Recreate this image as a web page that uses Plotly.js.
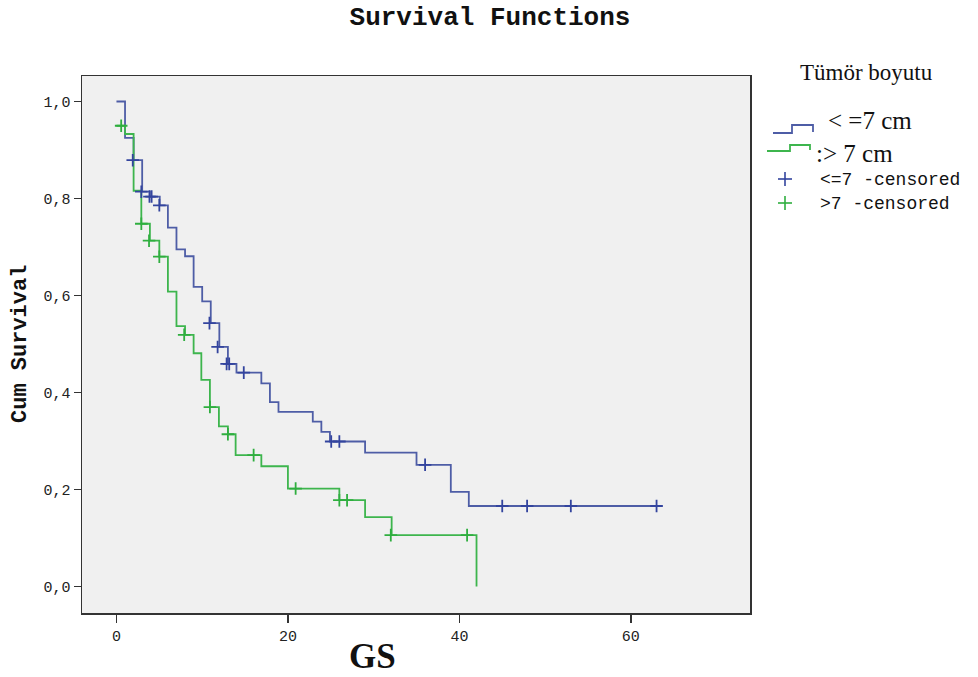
<!DOCTYPE html>
<html>
<head>
<meta charset="utf-8">
<script src="https://cdn.plot.ly/plotly-3.0.1.min.js"></script>
<style>html,body{margin:0;padding:0;background:#fff;}#chart{width:978px;height:677px;}</style>
</head>
<body>
<div id="chart"></div>
<script>
// ---- data ----
// group "<=7 cm": step points (time, cumulative survival)
const smallTimes = [0, 1.0, 2.0, 3.0, 3.9, 5.05, 6.0, 7.0, 8.0, 9.0, 10.0, 11.0, 12.0, 13.0, 14.0, 16.9, 17.9, 18.9, 22.9, 23.9, 24.9, 29.0, 35.0, 39.0, 41.1, 63.0];
const smallSurv  = [1.0, 0.925, 0.879, 0.814, 0.804, 0.786, 0.740, 0.695, 0.681, 0.618, 0.588, 0.543, 0.494, 0.459, 0.441, 0.419, 0.380, 0.360, 0.340, 0.319, 0.299, 0.276, 0.251, 0.195, 0.166, 0.166];
// group "<=7" censored marks
const smallCensT = [1.9, 2.9, 3.85, 4.1, 5.0, 10.85, 11.8, 12.85, 13.15, 14.85, 25.05, 26.0, 36.0, 45.0, 47.9, 53.0, 63.0];
const smallCensS = [0.879, 0.814, 0.804, 0.804, 0.786, 0.543, 0.494, 0.459, 0.459, 0.441, 0.299, 0.299, 0.251, 0.166, 0.166, 0.166, 0.166];

// group "> 7 cm"
const largeTimes = [0, 1.0, 2.0, 2.9, 3.9, 5.0, 6.0, 7.0, 8.0, 9.0, 9.9, 10.9, 11.95, 13.0, 13.9, 16.9, 20.0, 26.0, 29.0, 32.1, 42.0];
const largeSurv  = [0.950, 0.933, 0.816, 0.748, 0.713, 0.680, 0.608, 0.537, 0.519, 0.481, 0.426, 0.370, 0.330, 0.314, 0.271, 0.248, 0.202, 0.178, 0.143, 0.106, 0.0];
const largeCensT = [0.55, 2.9, 3.8, 5.0, 7.9, 10.9, 13.0, 16.0, 20.9, 26.0, 26.9, 32.0, 40.9];
const largeCensS = [0.950, 0.748, 0.713, 0.680, 0.519, 0.370, 0.314, 0.271, 0.202, 0.178, 0.178, 0.106, 0.106];

const yTickVals = [0, 0.2, 0.4, 0.6, 0.8, 1.0];
const yTickText = ['0,0', '0,2', '0,4', '0,6', '0,8', '1,0'];
const xTickVals = [0, 20, 40, 60];

const legendTitle = 'Tümör boyutu';
const legendLabels = ['< =7 cm', ':> 7 cm', '<=7 -censored', '>7 -censored'];

// ---- styling ----
const BLUE = '#4e5da6', BLUE_MARK = '#33449e', GREEN = '#3db54d', GREEN_MARK = '#2fae3f';
const MONO = '"Liberation Mono", "Courier New", monospace';
const SERIF = '"Liberation Serif", "Times New Roman", serif';

const W = 978, H = 677;
const L = 82, R = 750, T = 76, B = 613;
const px = x => (x - L) / (R - L);
const py = y => (B - y) / (B - T);

const traces = [
  {x: smallTimes, y: smallSurv, type: 'scatter', mode: 'lines', line: {shape: 'hv', color: BLUE, width: 1.8}, showlegend: false, hoverinfo: 'skip'},
  {x: largeTimes, y: largeSurv, type: 'scatter', mode: 'lines', line: {shape: 'hv', color: GREEN, width: 1.8}, showlegend: false, hoverinfo: 'skip'},
  {x: smallCensT, y: smallCensS, type: 'scatter', mode: 'markers', marker: {symbol: 'cross-thin', size: 9, line: {color: BLUE_MARK, width: 1.8}}, showlegend: false, hoverinfo: 'skip'},
  {x: largeCensT, y: largeCensS, type: 'scatter', mode: 'markers', marker: {symbol: 'cross-thin', size: 9, line: {color: GREEN_MARK, width: 1.8}}, showlegend: false, hoverinfo: 'skip'}
];

function pathFrom(pts) {
  return pts.map((p, i) => (i ? 'L' : 'M') + px(p[0]).toFixed(5) + ',' + py(p[1]).toFixed(5)).join(' ');
}
const shapes = [
  {type: 'path', xref: 'paper', yref: 'paper', path: pathFrom([[773,133],[792,133],[792,125],[813,125],[813,132]]), line: {color: BLUE, width: 1.8}},
  {type: 'path', xref: 'paper', yref: 'paper', path: pathFrom([[767,151],[790,151],[790,145],[810,145],[810,150]]), line: {color: GREEN, width: 1.8}},
  // censored plus signs in legend
  {type: 'line', xref: 'paper', yref: 'paper', x0: px(778), x1: px(792), y0: py(179), y1: py(179), line: {color: BLUE_MARK, width: 1.6}},
  {type: 'line', xref: 'paper', yref: 'paper', x0: px(785), x1: px(785), y0: py(172), y1: py(186), line: {color: BLUE_MARK, width: 1.6}},
  {type: 'line', xref: 'paper', yref: 'paper', x0: px(778), x1: px(792), y0: py(203), y1: py(203), line: {color: GREEN_MARK, width: 1.6}},
  {type: 'line', xref: 'paper', yref: 'paper', x0: px(785), x1: px(785), y0: py(196), y1: py(210), line: {color: GREEN_MARK, width: 1.6}}
];

const annotations = [
  {text: legendTitle, xref: 'paper', yref: 'paper', x: px(867), y: py(72), xanchor: 'center', yanchor: 'middle', showarrow: false, font: {family: SERIF, size: 23, color: '#111'}},
  {text: legendLabels[0], xref: 'paper', yref: 'paper', x: px(826), y: py(120), xanchor: 'left', yanchor: 'middle', showarrow: false, font: {family: SERIF, size: 25, color: '#111'}},
  {text: legendLabels[1], xref: 'paper', yref: 'paper', x: px(814), y: py(153), xanchor: 'left', yanchor: 'middle', showarrow: false, font: {family: SERIF, size: 25, color: '#111'}},
  {text: legendLabels[2], xref: 'paper', yref: 'paper', x: px(818), y: py(180), xanchor: 'left', yanchor: 'middle', showarrow: false, font: {family: MONO, size: 18, color: '#111'}},
  {text: legendLabels[3], xref: 'paper', yref: 'paper', x: px(818), y: py(204), xanchor: 'left', yanchor: 'middle', showarrow: false, font: {family: MONO, size: 18, color: '#111'}},
  {text: '<b>GS</b>', xref: 'paper', yref: 'paper', x: px(372), y: py(656), xanchor: 'center', yanchor: 'middle', showarrow: false, font: {family: SERIF, size: 35, color: '#111'}},
  {text: '<b>Cum Survival</b>', xref: 'paper', yref: 'paper', x: px(20), y: py(344), xanchor: 'center', yanchor: 'middle', textangle: -90, showarrow: false, font: {family: MONO, size: 22, color: '#111'}}
];

const layout = {
  width: W, height: H,
  margin: {l: L, r: W - R, t: T, b: H - B},
  paper_bgcolor: '#ffffff',
  plot_bgcolor: '#f0f0f0',
  showlegend: false,
  title: {text: '<b>Survival Functions</b>', xref: 'container', yref: 'container', x: 0.501, y: 1 - 16 / H, xanchor: 'center', yanchor: 'middle', font: {family: MONO, size: 26, color: '#111'}},
  xaxis: {range: [-4.02, 73.9], tickvals: xTickVals, ticks: 'outside', ticklen: 8, tickwidth: 1.5, tickcolor: '#333', showline: true, linecolor: '#333', linewidth: 1.5, mirror: true, showgrid: false, zeroline: false, tickfont: {family: MONO, size: 15, color: '#222'}},
  yaxis: {range: [-0.0546, 1.0526], tickvals: yTickVals, ticktext: yTickText, ticks: 'outside', ticklen: 7, tickwidth: 1.5, tickcolor: '#333', showline: true, linecolor: '#333', linewidth: 1.5, mirror: true, showgrid: false, zeroline: false, tickfont: {family: MONO, size: 15, color: '#222'}},
  shapes: shapes,
  annotations: annotations
};

Plotly.newPlot('chart', traces, layout, {displayModeBar: false, staticPlot: true});
</script>
</body>
</html>
